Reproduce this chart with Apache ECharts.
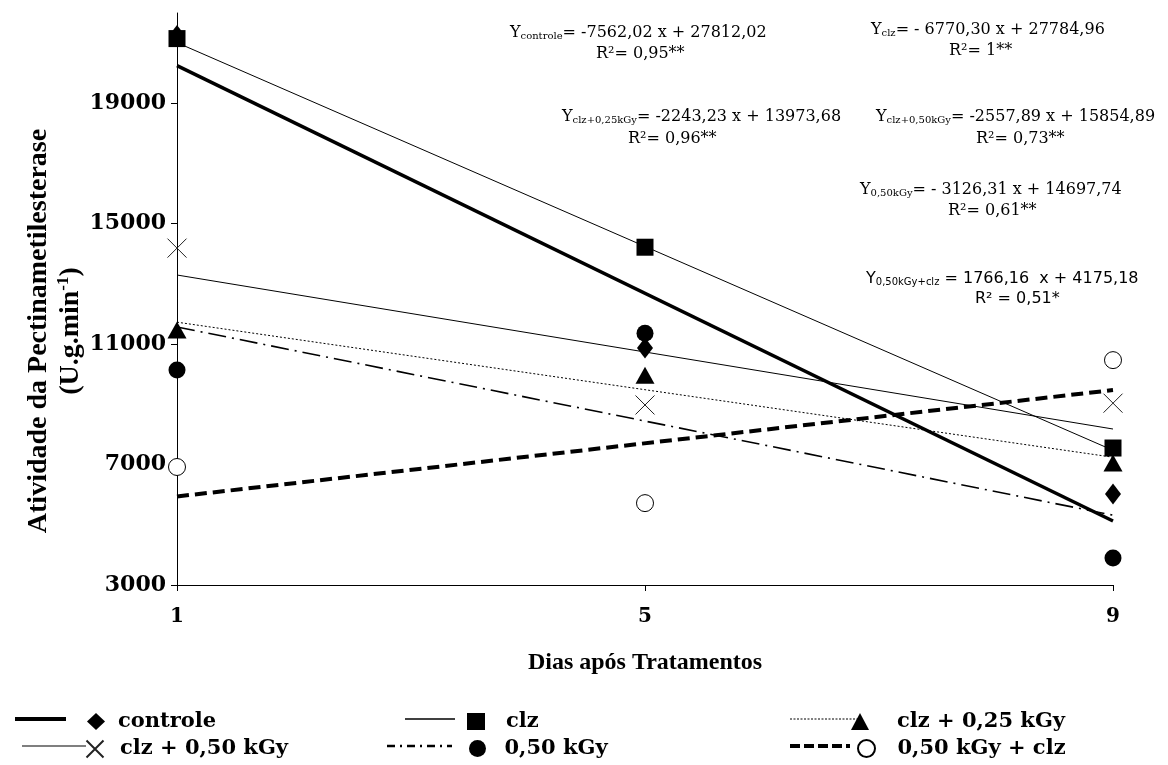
<!DOCTYPE html>
<html>
<head>
<meta charset="utf-8">
<script src="https://cdn.jsdelivr.net/npm/echarts@6/dist/echarts.min.js"></script>
<style>
  html, body { margin: 0; padding: 0; background: #fff; }
  #chart { width: 1168px; height: 765px; }
</style>
</head>
<body>
<div id="chart"></div>
<script>
// days after treatment
const days = [1, 5, 9];
const fitDays = [1, 9];
const yTicks = [3000, 7000, 11000, 15000, 19000];

// measured points
const controle = [21250, 10870, 6020];
const clz = [21150, 14220, 7550];
const clz025 = [11470, 9970, 7050];
const clz050 = [14190, 8980, 9040];
const kgy050 = [10140, 11360, 3900];
const kgy050clz = [6920, 5720, 10470];

// regression lines, value at day 1 and day 9
const controleFit = [20250, 5126];
const clzFit = [21015, 7474];
const clz025Fit = [11730, 7244];
const clz050Fit = [13297, 8181];
const kgy050Fit = [11571, 5319];
const kgy050clzFit = [5941, 9474];

const names = ['controle', 'clz', 'clz + 0,25 kGy', 'clz + 0,50 kGy', '0,50 kGy', '0,50 kGy + clz'];

const serif = 'DejaVu Serif';
const black = '#000';

function pts(vals) {
  return days.map((d, i) => [d, vals[i]]);
}
function fit(vals) {
  return fitDays.map((d, i) => [d, vals[i]]);
}

const xPath = 'path://M0,0L20,20M20,0L0,20';

const markers = [
  { data: controle, symbol: 'diamond', size: [16, 21], style: { color: black, opacity: 1 } },
  { data: clz, symbol: 'rect', size: 17, style: { color: black, opacity: 1 } },
  { data: clz025, symbol: 'triangle', size: [19, 17], style: { color: black, opacity: 1 } },
  { data: clz050, symbol: xPath, size: 19, style: { color: 'none', borderColor: '#222', borderWidth: 1, opacity: 1 } },
  { data: kgy050, symbol: 'circle', size: 17, style: { color: black, opacity: 1 } },
  { data: kgy050clz, symbol: 'circle', size: 17, style: { color: '#fff', borderColor: black, borderWidth: 1, opacity: 1 } }
];

const lines = [
  { data: controleFit, width: 3.5, type: 'solid' },
  { data: clzFit, width: 1, type: 'solid' },
  { data: clz025Fit, width: 1, type: [2, 2] },
  { data: clz050Fit, width: 1, type: 'solid' },
  { data: kgy050Fit, width: 1.6, type: [18, 6, 2, 6] },
  { data: kgy050clzFit, width: 4, type: [12, 6] }
];

const series = [];
markers.forEach((m, i) => {
  series.push({
    name: names[i],
    type: 'scatter',
    data: pts(m.data),
    symbol: m.symbol,
    symbolSize: m.size,
    itemStyle: m.style,
    z: 5
  });
});
lines.forEach((l, i) => {
  series.push({
    name: names[i] + ' ajuste',
    type: 'line',
    data: fit(l.data),
    symbol: 'none',
    lineStyle: { color: black, width: l.width, type: l.type },
    z: 2
  });
});

// legend: one component per entry [left, top, text padding]
const legendPos = [
  [82, 706, 8], [462, 706, 16], [846, 706, 23],
  [79, 733, 11], [464, 733, 13], [852, 733, 17]
];
const legends = names.map((n, i) => ({
  data: [n],
  left: legendPos[i][0],
  top: legendPos[i][1],
  selectedMode: false,
  itemWidth: 18,
  itemHeight: 17,
  textStyle: { fontFamily: serif, fontWeight: 'bold', fontSize: 21, color: black, padding: [0, 0, 0, legendPos[i][2]] }
}));

// legend line samples
const legendLines = [
  { x1: 15, x2: 66, y: 719, w: 4, dash: null },
  { x1: 405, x2: 455, y: 719, w: 1.5, dash: null },
  { x1: 790, x2: 858, y: 719, w: 1, dash: [2, 1.5] },
  { x1: 22, x2: 86, y: 746, w: 1.2, dash: null },
  { x1: 387, x2: 452, y: 746, w: 2.5, dash: [8, 5, 2, 5] },
  { x1: 790, x2: 850, y: 746, w: 4, dash: [10, 4] }
];

const eqRich = {
  m: { fontFamily: serif, fontSize: 16, color: black },
  s: { fontFamily: serif, fontSize: 10, color: black, verticalAlign: 'bottom', padding: [7, 0, 0, 0] },
  sm: { fontFamily: 'DejaVu Sans', fontSize: 16, color: black },
  ss: { fontFamily: 'DejaVu Sans', fontSize: 10, color: black, padding: [7, 0, 0, 0] }
};

const equations = [
  { x: 510, y: 33, t: '{m|Y}{s|controle}{m|= -7562,02 x + 27812,02}' },
  { x: 596, y: 54, t: '{m|R²= 0,95**}' },
  { x: 871, y: 30, t: '{m|Y}{s|clz}{m|= - 6770,30 x + 27784,96}' },
  { x: 949, y: 51, t: '{m|R²= 1**}' },
  { x: 562, y: 117, t: '{m|Y}{s|clz+0,25kGy}{m|= -2243,23 x + 13973,68}' },
  { x: 628, y: 139, t: '{m|R²= 0,96**}' },
  { x: 876, y: 117, t: '{m|Y}{s|clz+0,50kGy}{m|= -2557,89 x + 15854,89}' },
  { x: 976, y: 139, t: '{m|R²= 0,73**}' },
  { x: 860, y: 190, t: '{m|Y}{s|0,50kGy}{m|= - 3126,31 x + 14697,74}' },
  { x: 948, y: 211, t: '{m|R²= 0,61**}' },
  { x: 866, y: 279, t: '{sm|Y}{ss|0,50kGy+clz}{sm| = 1766,16  x + 4175,18}' },
  { x: 975, y: 299, t: '{sm|R² = 0,51*}' }
];

const graphic = [];
legendLines.forEach(l => {
  graphic.push({
    type: 'line',
    shape: { x1: l.x1, y1: l.y, x2: l.x2, y2: l.y },
    style: { stroke: black, lineWidth: l.w, lineDash: l.dash }
  });
});
equations.forEach(e => {
  graphic.push({
    type: 'text',
    x: e.x,
    y: e.y,
    style: { text: e.t, rich: eqRich, align: 'left', verticalAlign: 'middle' }
  });
});

const chart = echarts.init(document.getElementById('chart'));
chart.setOption({
  backgroundColor: '#fff',
  animation: false,
  grid: { left: 177, right: 55, top: 13, bottom: 180 },
  xAxis: {
    type: 'value',
    min: 1,
    max: 9,
    name: 'Dias após Tratamentos',
    nameLocation: 'middle',
    nameGap: 66,
    nameMoveOverlap: false,
    nameTextStyle: { fontFamily: 'Liberation Serif', fontWeight: 'bold', fontSize: 24, color: black },
    axisLine: { lineStyle: { color: black, width: 1 } },
    axisTick: { customValues: days, length: 6, lineStyle: { color: black } },
    axisLabel: { customValues: days, margin: 22, fontFamily: serif, fontWeight: 'bold', fontSize: 20, color: black },
    splitLine: { show: false }
  },
  yAxis: {
    type: 'value',
    min: 3000,
    max: 22000,
    interval: 4000,
    name: 'Atividade da Pectinametilesterase\n(U.g.min{sup|-1})',
    nameLocation: 'middle',
    nameGap: 90,
    nameMoveOverlap: false,
    nameTextStyle: {
      fontFamily: 'Liberation Serif', fontWeight: 'bold', fontSize: 28, color: black, lineHeight: 32,
      padding: [0, 64, 0, 0],
      rich: { sup: { fontFamily: 'Liberation Serif', fontWeight: 'bold', fontSize: 17, color: black, verticalAlign: 'top', padding: [0, 0, 10, 0] } }
    },
    axisLine: { show: true, lineStyle: { color: black, width: 1 } },
    axisTick: { show: true, customValues: yTicks, length: 6, lineStyle: { color: black } },
    axisLabel: {
      customValues: yTicks, margin: 11, fontFamily: serif, fontWeight: 'bold', fontSize: 22, color: black,
      formatter: v => String(v)
    },
    splitLine: { show: false }
  },
  legend: legends,
  series: series,
  graphic: graphic
});
</script>
</body>
</html>
